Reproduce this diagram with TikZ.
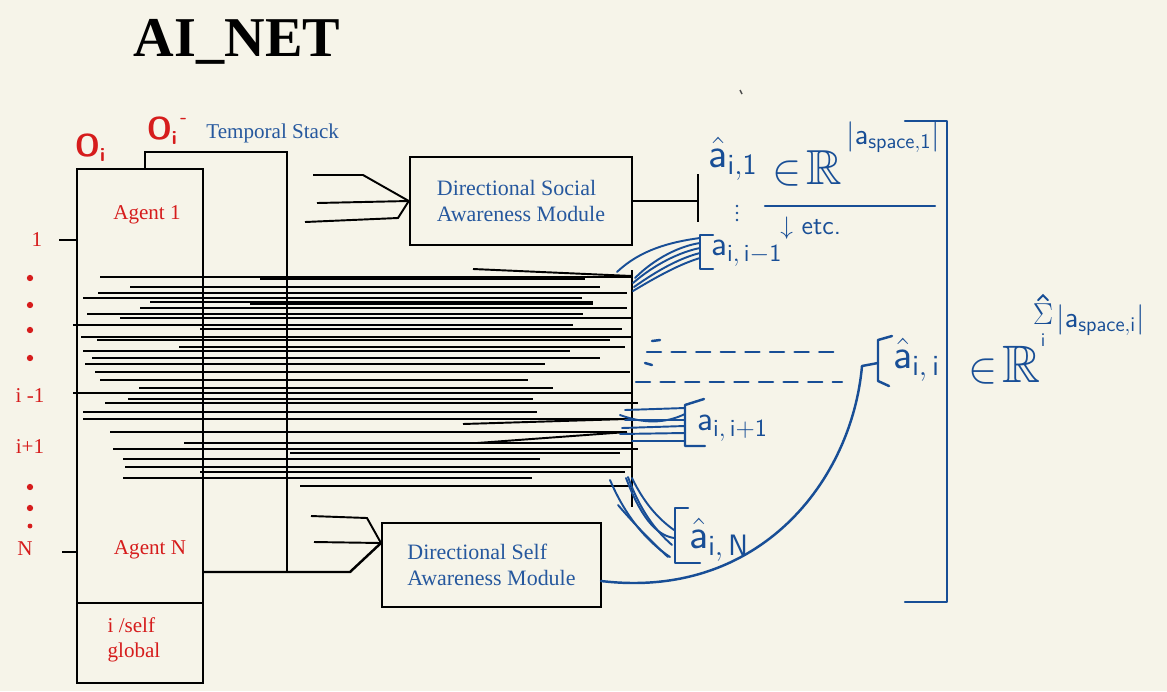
\documentclass[tikz,border=0pt]{standalone}
\usepackage{amsmath,amssymb}
\usepackage{fontspec}
\setmainfont{Liberation Serif}
\usepackage{tikz}
\usetikzlibrary{positioning, calc}

\definecolor{paper}{RGB}{246,244,233}
\definecolor{ink}{RGB}{24,78,150}
\definecolor{typeblue}{RGB}{38,88,158}
\definecolor{agentred}{RGB}{214,28,28}

\begin{document}
\begin{tikzpicture}[
	x=0.02cm, y=-0.02cm,
	wire/.style={line width=1.1pt},
	frame/.style={line width=1.4pt},
	module/.style={draw, line width=1.4pt, inner sep=0pt, align=left, text=typeblue, font=\fontsize{12.5}{15}\selectfont},
	pen/.style={draw=ink, line width=1.4pt, line cap=round, line join=round},
	thin pen/.style={draw=ink, line width=1.1pt, line cap=round},
	redlabel/.style={text=agentred, font=\fontsize{12}{14}\selectfont, inner sep=0pt},
	redhand/.style={text=agentred, font=\fontsize{18}{20}\selectfont\sffamily\bfseries, inner sep=0pt},
	hand/.style={text=ink, inner sep=0pt},
	reddot/.style={circle, fill=agentred, inner sep=0pt, minimum size=3.6pt}
	]
	
	\useasboundingbox (0,0) rectangle (1167,691);
	\fill[paper] (0,0) rectangle (1167,691);
	
	% --- TITLE ---
	\node[font=\fontsize{32}{36}\selectfont\bfseries] (title) at (237,42) {AI\_NET};
	
	% --- MODULES ---
	\node[module, minimum width=4.44cm, minimum height=1.76cm] (social) at (521,201) {Directional Social\\Awareness Module};
	\node[module, minimum width=4.38cm, minimum height=1.68cm] (selfmod) at (491.5,565) {Directional Self\\Awareness Module};
	\coordinate (selfin) at (381,543);
	\coordinate (selfout) at (601,581);
	
	% --- AGENT STACK ---
	\draw[frame] (77,169) rectangle (203,683);
	\draw[frame] (77,603) -- (203,603);
	\draw[frame] (145,169) -- (145,152) -- (287,152) -- (287,572);
	\draw[frame] (203,572) -- (350,572) -- (selfin);
	\draw[frame] (632,270) -- (632,507);
	
	\node[redlabel] (agent1) at (147,215) {Agent 1};
	\node[redlabel] (agentN) at (150,550) {Agent N};
	\node[redlabel, align=left] (global) at (134,640) {i /self\\global};
	\node[text=typeblue, font=\fontsize{12}{14}\selectfont, anchor=west, inner sep=0pt] (temporal) at (206,133) {Temporal Stack};
	\node[redhand] (obs) at (90,148) {O\raisebox{-0.35ex}{\fontsize{11}{12}\selectfont i}};
	\node[redhand] (obsprev) at (167,131) {O\raisebox{-0.35ex}{\fontsize{11}{12}\selectfont i}\raisebox{1.1ex}{\fontsize{11}{12}\selectfont\,-}};
	
	% Agent index
	\node[redlabel] (idx1) at (37,240) {1};
	\node[redlabel] (idxprev) at (30,396) {i -1};
	\node[redlabel] (idxnext) at (30,447) {i+1};
	\node[redlabel] (idxN) at (25,549) {N};
	\draw[wire] (59,240) -- (77,240);
	\draw[wire] (62,552) -- (77,552);
	\foreach \y in {278,305,330,358,487,508}
		\node[reddot] at (30,\y) {};
	\node[reddot, minimum size=2.8pt] at (30,526) {};
	
	% Observation lines
	\foreach \y/\a/\b in {277/100/632, 279/260/585, 287/130/600, 293/98/627, 298/83/582, 302/150/593, 304/250/593,
		308/140/627, 314/87/583, 318/120/632, 325/73/573, 329/200/622, 337/81/632, 340/97/610, 347/179/625,
		351/83/570, 358/92/600, 364/85/545, 372/95/630, 380/100/528, 388/139/553, 393/73/632, 399/128/533,
		403/105/638, 412/83/537, 419/83/633, 432/110/625, 443/184/632, 449/113/638, 453/290/620,
		459/123/540, 467/125/632, 472/200/625, 478/123/532, 486/300/632}
		\draw[wire] (\a,\y) -- (\b,\y);
	\draw[wire] (473,269) -- (632,276);
	\draw[wire] (463,424) -- (627,419);
	\draw[wire] (477,443) -- (627,432);
	
	% --- INPUT FANS ---
	\draw[wire] (313,175) -- (363,175) -- (social.west);
	\draw[wire] (317,203) -- (social.west);
	\draw[wire] (305,222) -- (398,218) -- (social.west);
	\draw[wire] (311,516) -- (367,518) -- (selfin);
	\draw[wire] (314,542) -- (selfin);
	
	% Social output
	\coordinate (bar) at (698,201);
	\draw[wire] (social.east) -- (bar);
	\draw[wire] (698,174) -- (698,222);
	
	% --- HANDWRITTEN OUTPUTS ---
	\draw[line width=0.8pt, black!70] (740,90) -- (742,94);
	\node[hand, font=\fontsize{24}{26}\selectfont] (ahatone) at (733,159) {$\hat{\mathsf{a}}_{\mathsf{i,1}}$};
	\foreach \y in {206,213,220}
		\fill[ink] (737,\y) circle (0.8pt);
	\node[hand, font=\fontsize{28}{30}\selectfont, anchor=west] (inone) at (772,168) {$\in\!\mathbb{R}$};
	\node[hand, font=\fontsize{17}{19}\selectfont\sffamily, anchor=west] (dimone) at (846,137) {$|\mathsf{a}_{\mathsf{space},\mathsf{1}}|$};
	\draw[pen] (765,206) -- (935,206);
	\node[hand, font=\fontsize{15}{17}\selectfont\sffamily, anchor=west] (etc) at (780,228) {$\downarrow$ etc.};
	
	% a_{i,i-1}
	\coordinate (prevtop) at (700,238);
	\draw[pen] (713,235) -- (700,235) -- (700,269) -- (713,269);
	\node[hand, font=\fontsize{20}{22}\selectfont, anchor=west] (aprev) at (711,253) {$\mathsf{a}_{\mathsf{i,\,i-1}}$};
	\draw[thin pen] (617,272) .. controls (640,250) and (670,242) .. (prevtop);
	\draw[thin pen] (635,278) .. controls (655,258) and (680,246) .. (700,243);
	\draw[thin pen] (633,283) .. controls (655,264) and (680,252) .. (700,248);
	\draw[thin pen] (634,287) .. controls (658,270) and (680,258) .. (700,253);
	\draw[thin pen] (633,291) .. controls (658,276) and (680,264) .. (700,258);
	
	% dashed a_{i,i}
	\draw[pen, dash pattern=on 8pt off 6pt] (647,352) -- (840,352);
	\draw[pen, dash pattern=on 8pt off 6pt] (636,382) -- (842,382);
	\draw[pen] (652,341) -- (660,340);
	\draw[pen] (645,363) -- (652,365);
	
	% a_{i,i+1}
	\draw[pen] (704,399) -- (685,405) -- (685,446) -- (705,446);
	\node[hand, font=\fontsize{20}{22}\selectfont, anchor=west] (anext) at (697,428) {$\mathsf{a}_{\mathsf{i,\,i+1}}$};
	\draw[thin pen] (625,410) -- (685,408);
	\draw[thin pen] (620,415) .. controls (650,426) and (670,421) .. (685,414);
	\draw[thin pen] (625,420) -- (685,420);
	\draw[thin pen] (622,428) -- (685,426);
	\draw[thin pen] (620,434) -- (685,433);
	\draw[thin pen] (632,441) -- (685,441);
	
	% a_{i,N}
	\draw[pen] (688,508) -- (675,508) -- (675,563) -- (700,563);
	\node[hand, font=\fontsize{24}{26}\selectfont, anchor=west] (ahatN) at (689,540) {$\hat{\mathsf{a}}_{\mathsf{i,\,N}}$};
	\draw[thin pen] (610,480) .. controls (625,515) and (645,540) .. (670,557);
	\draw[thin pen] (628,477) .. controls (640,510) and (655,530) .. (672,545);
	\draw[thin pen] (632,478) .. controls (645,505) and (660,520) .. (674,530);
	\draw[thin pen] (626,478) .. controls (640,515) and (655,535) .. (674,538);
	\draw[thin pen] (618,505) .. controls (635,525) and (655,545) .. (668,557);
	
	% a_{i,i}
	\coordinate (selftop) at (878,363);
	\draw[pen] (892,336) -- (878,340) -- (878,381) -- (889,386);
	\draw[pen] (selfout) .. controls (760,600) and (852,480) .. (862,366) -- (selftop);
	\node[hand, font=\fontsize{24}{26}\selectfont, anchor=west] (ahatself) at (893,360) {$\hat{\mathsf{a}}_{\mathsf{i,\,i}}$};
	
	% joint space
	\draw[pen] (905,121) -- (947,121) -- (947,602) -- (905,602);
	\node[hand, font=\fontsize{30}{32}\selectfont, anchor=west] (inall) at (968,365) {$\in\!\mathbb{R}$};
	\node[hand, font=\fontsize{16}{18}\selectfont] (sigma) at (1043,314) {$\Sigma$};
	\draw[thin pen] ($(sigma.north)+(-5,-3)$) -- ($(sigma.north)+(0,-8)$) -- ($(sigma.north)+(5,-3)$);
	\node[hand, font=\fontsize{11}{12}\selectfont, below=5pt of sigma] (sigmai) {$\mathsf{i}$};
	\node[hand, font=\fontsize{17}{19}\selectfont, anchor=west] (dimall) at (1056,320) {$|\mathsf{a}_{\mathsf{space},\mathsf{i}}|$};
	
\end{tikzpicture}
\end{document}
